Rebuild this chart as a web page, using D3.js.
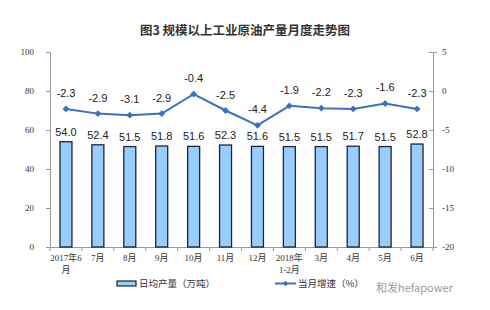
<!DOCTYPE html>
<html>
<head>
<meta charset="utf-8">
<script src="https://cdn.jsdelivr.net/npm/d3@7/dist/d3.min.js"></script>
<style>
  body { margin: 0; background: #fff; }
  svg { display: block; }
</style>
</head>
<body>
<svg id="chart" width="490" height="310"></svg>
<script>
const months = ['2017年6|月', '7月', '8月', '9月', '10月', '11月', '12月', '2018年|1-2月', '3月', '4月', '5月', '6月'];
const output = [54.0, 52.4, 51.5, 51.8, 51.6, 52.3, 51.6, 51.5, 51.5, 51.7, 51.5, 52.8];
const growth = [-2.3, -2.9, -3.1, -2.9, -0.4, -2.5, -4.4, -1.9, -2.2, -2.3, -1.6, -2.3];
const leftTicks = [0, 20, 40, 60, 80, 100];
const rightTicks = [5, 0, -5, -10, -15, -20];

const svg = d3.select('#chart');
const plotLeft = 50, plotRight = 433, plotTop = 52, plotBottom = 247;

const x = d3.scaleBand().domain(d3.range(months.length)).range([plotLeft, plotRight]);
const yL = d3.scaleLinear().domain([0, 100]).range([plotBottom, plotTop]);
const yR = d3.scaleLinear().domain([-20, 5]).range([plotBottom, plotTop]);

svg.append('text')
    .attr('x', 245).attr('y', 35)
    .attr('text-anchor', 'middle')
    .style('font-family', 'Noto Sans CJK SC')
    .style('font-size', '12.5px')
    .style('font-weight', 'bold')
    .style('fill', '#333')
    .text('图3  规模以上工业原油产量月度走势图');

// left axis
let gl = svg.append('g').attr('transform', `translate(${plotLeft},0)`)
    .call(d3.axisLeft(yL).tickValues(leftTicks).tickSize(4).tickPadding(12));
// right axis
let gr = svg.append('g').attr('transform', `translate(${plotRight},0)`)
    .call(d3.axisRight(yR).tickValues(rightTicks).tickSize(4).tickPadding(5)
        .tickFormat(d => d));
// bottom axis
let gb = svg.append('g').attr('transform', `translate(0,${plotBottom})`)
    .call(d3.axisBottom(x).tickValues([]).tickSizeOuter(0));
svg.append('g').selectAll('line')
    .data(d3.range(months.length + 1))
    .join('line')
    .attr('x1', i => plotLeft + i * x.step()).attr('x2', i => plotLeft + i * x.step())
    .attr('y1', plotBottom).attr('y2', plotBottom + 4)
    .attr('stroke', '#999');

[gl, gr, gb].forEach(g => {
    g.select('.domain').attr('stroke', '#999');
    g.selectAll('.tick line').attr('stroke', '#999');
    g.selectAll('.tick text')
        .style('font-family', 'Liberation Serif')
        .style('font-size', '9px')
        .style('fill', '#333');
});
gr.selectAll('.tick line').attr('x2', -4);

// x labels
const xl = svg.append('g').selectAll('text')
    .data(months)
    .join('text')
    .attr('x', (d, i) => x(i) + x.bandwidth() / 2)
    .attr('y', plotBottom + 14)
    .attr('text-anchor', 'middle')
    .style('font-family', 'Liberation Serif, Noto Sans CJK SC')
    .style('font-size', '9px')
    .style('fill', '#333');
xl.each(function (d) {
    d.split('|').forEach((part, k) => {
        d3.select(this).append('tspan')
            .attr('x', d3.select(this).attr('x'))
            .attr('dy', k === 0 ? 0 : 12)
            .text(part);
    });
});

// bars
const bw = 12;
svg.append('g').selectAll('rect')
    .data(output)
    .join('rect')
    .attr('x', (d, i) => x(i) + x.bandwidth() / 2 - bw / 2)
    .attr('y', d => yL(d))
    .attr('width', bw)
    .attr('height', d => plotBottom - yL(d))
    .attr('fill', '#99ccff')
    .attr('stroke', '#1c2633')
    .attr('stroke-width', 1.3);

svg.append('g').selectAll('text')
    .data(output)
    .join('text')
    .attr('x', (d, i) => x(i) + x.bandwidth() / 2)
    .attr('y', d => yL(d) - 6)
    .attr('text-anchor', 'middle')
    .style('font-family', 'Liberation Sans')
    .style('font-size', '11px')
    .style('fill', '#222')
    .text(d => d.toFixed(1));

// line
const line = d3.line()
    .x((d, i) => x(i) + x.bandwidth() / 2)
    .y(d => yR(d));
svg.append('path')
    .datum(growth)
    .attr('d', line)
    .attr('fill', 'none')
    .attr('stroke', '#3a72c0')
    .attr('stroke-width', 2);

svg.append('g').selectAll('path')
    .data(growth)
    .join('path')
    .attr('transform', (d, i) => `translate(${x(i) + x.bandwidth() / 2},${yR(d)})`)
    .attr('d', d3.symbol(d3.symbolDiamond2, 30))
    .attr('fill', '#3a72c0');

svg.append('g').selectAll('text')
    .data(growth)
    .join('text')
    .attr('x', (d, i) => x(i) + x.bandwidth() / 2)
    .attr('y', d => yR(d) - 12)
    .attr('text-anchor', 'middle')
    .style('font-family', 'Liberation Sans')
    .style('font-size', '11px')
    .style('fill', '#222')
    .text(d => d.toFixed(1));

// legend
const lg = svg.append('g');
lg.append('rect')
    .attr('x', 117).attr('y', 281).attr('width', 19).attr('height', 5)
    .attr('fill', '#99ccff').attr('stroke', '#1c2633').attr('stroke-width', 1.2);
lg.append('text')
    .attr('x', 139).attr('y', 287)
    .style('font-family', 'Noto Sans CJK SC').style('font-size', '9.5px').style('fill', '#333')
    .text('日均产量（万吨）');
lg.append('line')
    .attr('x1', 275).attr('x2', 296).attr('y1', 283.5).attr('y2', 283.5)
    .attr('stroke', '#3a72c0').attr('stroke-width', 2);
lg.append('path')
    .attr('transform', 'translate(285.5,283.5)')
    .attr('d', d3.symbol(d3.symbolDiamond2, 18))
    .attr('fill', '#3a72c0');
lg.append('text')
    .attr('x', 298).attr('y', 287)
    .style('font-family', 'Noto Sans CJK SC').style('font-size', '9.5px').style('fill', '#333')
    .text('当月增速（%）');
lg.append('text')
    .attr('x', 376).attr('y', 292)
    .style('font-family', 'Noto Sans CJK SC').style('font-size', '11px').style('fill', '#999')
    .text('和发hefapower');
</script>
</body>
</html>
